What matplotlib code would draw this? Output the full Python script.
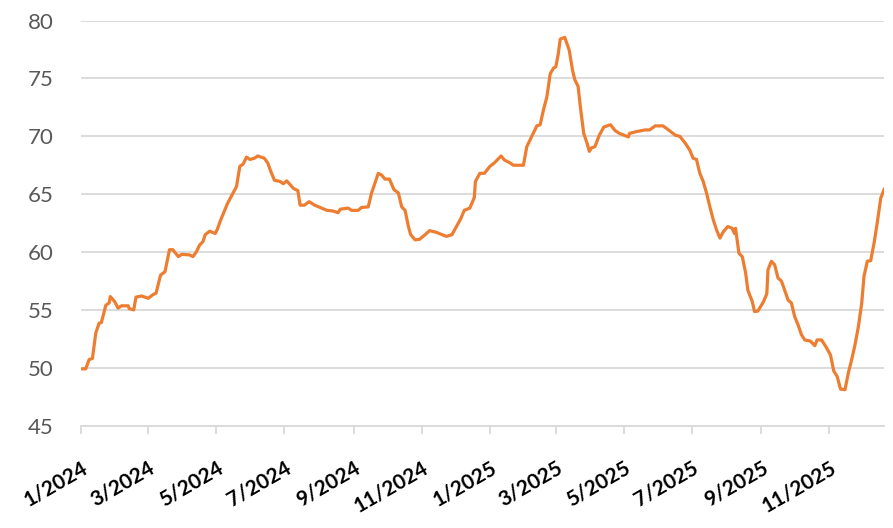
import matplotlib
matplotlib.use("Agg")
import matplotlib.pyplot as plt
import matplotlib.dates as mdates
import pandas as pd

# values
dates = [
    "2024-01-01", "2024-01-05", "2024-01-08", "2024-01-11", "2024-01-14", "2024-01-17",
    "2024-01-19", "2024-01-23", "2024-01-26", "2024-01-27", "2024-01-31", "2024-02-03",
    "2024-02-06", "2024-02-12", "2024-02-13", "2024-02-17", "2024-02-19", "2024-02-24",
    "2024-03-01", "2024-03-05", "2024-03-08", "2024-03-12", "2024-03-16", "2024-03-20",
    "2024-03-23", "2024-03-28", "2024-03-31", "2024-04-07", "2024-04-10", "2024-04-13",
    "2024-04-16", "2024-04-19", "2024-04-21", "2024-04-25", "2024-04-30", "2024-05-02",
    "2024-05-05", "2024-05-08", "2024-05-11", "2024-05-16", "2024-05-19", "2024-05-22",
    "2024-05-25", "2024-05-28", "2024-05-31", "2024-06-04", "2024-06-07", "2024-06-13",
    "2024-06-16", "2024-06-19", "2024-06-22", "2024-06-27", "2024-06-30", "2024-07-03",
    "2024-07-09", "2024-07-13", "2024-07-15", "2024-07-19", "2024-07-23", "2024-07-28",
    "2024-08-03", "2024-08-08", "2024-08-13", "2024-08-18", "2024-08-20", "2024-08-27",
    "2024-08-30", "2024-09-05", "2024-09-08", "2024-09-14", "2024-09-17", "2024-09-20",
    "2024-09-23", "2024-09-26", "2024-09-29", "2024-10-03", "2024-10-07", "2024-10-11",
    "2024-10-14", "2024-10-17", "2024-10-20", "2024-10-22", "2024-10-26", "2024-10-30",
    "2024-11-04", "2024-11-08", "2024-11-14", "2024-11-19", "2024-11-23", "2024-11-28",
    "2024-12-02", "2024-12-06", "2024-12-09", "2024-12-14", "2024-12-18", "2024-12-19",
    "2024-12-23", "2024-12-27", "2025-01-01", "2025-01-05", "2025-01-11", "2025-01-14",
    "2025-01-19", "2025-01-22", "2025-01-31", "2025-02-03", "2025-02-07", "2025-02-12",
    "2025-02-15", "2025-02-18", "2025-02-21", "2025-02-24", "2025-02-27", "2025-03-01",
    "2025-03-03", "2025-03-05", "2025-03-09", "2025-03-13", "2025-03-16", "2025-03-18",
    "2025-03-21", "2025-03-23", "2025-03-26", "2025-03-29", "2025-03-31", "2025-04-02",
    "2025-04-05", "2025-04-09", "2025-04-13", "2025-04-19", "2025-04-23", "2025-04-27",
    "2025-05-05", "2025-05-06", "2025-05-12", "2025-05-20", "2025-05-24", "2025-05-29",
    "2025-06-05", "2025-06-10", "2025-06-16", "2025-06-20", "2025-06-25", "2025-06-29",
    "2025-07-02", "2025-07-05", "2025-07-08", "2025-07-11", "2025-07-14", "2025-07-17",
    "2025-07-20", "2025-07-23", "2025-07-26", "2025-07-29", "2025-08-02", "2025-08-06",
    "2025-08-08", "2025-08-09", "2025-08-12", "2025-08-15", "2025-08-18", "2025-08-20",
    "2025-08-24", "2025-08-26", "2025-08-29", "2025-09-03", "2025-09-06", "2025-09-07",
    "2025-09-10", "2025-09-13", "2025-09-16", "2025-09-19", "2025-09-22", "2025-09-25",
    "2025-09-28", "2025-10-01", "2025-10-04", "2025-10-07", "2025-10-10", "2025-10-15",
    "2025-10-19", "2025-10-21", "2025-10-25", "2025-10-29", "2025-11-02", "2025-11-05",
    "2025-11-08", "2025-11-11", "2025-11-15", "2025-11-18", "2025-11-21", "2025-11-24",
    "2025-11-27", "2025-11-30", "2025-12-02", "2025-12-05", "2025-12-08", "2025-12-11",
    "2025-12-14", "2025-12-17", "2025-12-20",
]
values = [
    49.9, 49.9, 50.7, 50.8, 53.0, 53.85,
    53.9, 55.4, 55.6, 56.15, 55.7, 55.15,
    55.35, 55.35, 55.1, 55.0, 56.1, 56.2,
    56.0, 56.3, 56.45, 58.0, 58.3, 60.2,
    60.2, 59.6, 59.8, 59.75, 59.6, 60.0,
    60.6, 60.9, 61.5, 61.8, 61.6, 62.0,
    62.8, 63.5, 64.2, 65.1, 65.65, 67.4,
    67.6, 68.2, 68.0, 68.1, 68.3, 68.1,
    67.7, 66.9, 66.2, 66.1, 65.9, 66.15,
    65.5, 65.3, 64.05, 64.05, 64.35, 64.05,
    63.8, 63.6, 63.55, 63.4, 63.7, 63.8,
    63.6, 63.6, 63.85, 63.9, 65.1, 65.95,
    66.8, 66.65, 66.3, 66.3, 65.4, 65.1,
    63.9, 63.6, 62.2, 61.5, 61.05, 61.1,
    61.5, 61.85, 61.7, 61.5, 61.35, 61.5,
    62.2, 62.9, 63.6, 63.8, 64.7, 66.1,
    66.8, 66.8, 67.4, 67.7, 68.3, 67.95,
    67.7, 67.5, 67.5, 69.1, 69.9, 70.9,
    71.0, 72.3, 73.4, 75.4, 75.9, 76.0,
    77.0, 78.4, 78.55, 77.45, 75.7, 74.9,
    74.3, 72.55, 70.25, 69.4, 68.7, 69.0,
    69.1, 70.1, 70.8, 71.0, 70.5, 70.25,
    69.95, 70.25, 70.4, 70.55, 70.55, 70.9,
    70.9, 70.55, 70.1, 70.0, 69.4, 68.8,
    68.1, 68.0, 66.8, 66.1, 65.1, 63.9,
    62.8, 61.9, 61.2, 61.75, 62.2, 62.05,
    61.6, 62.05, 59.9, 59.6, 58.2, 56.7,
    55.7, 54.85, 54.9, 55.7, 56.4, 58.45,
    59.2, 58.9, 57.75, 57.5, 56.7, 55.85,
    55.6, 54.4, 53.7, 52.85, 52.4, 52.3,
    51.9, 52.4, 52.4, 51.8, 51.1, 49.7,
    49.25, 48.15, 48.1, 49.55, 50.7, 52.0,
    53.55, 55.6, 57.9, 59.2, 59.25, 60.75,
    62.6, 64.65, 65.4,
]
y_ticks = [45, 50, 55, 60, 65, 70, 75, 80]
x_start, x_end = "2024-01-01", "2025-12-20"

plt.rcParams["font.family"] = ["Lato", "DejaVu Sans"]

x = pd.to_datetime(dates)
fig = plt.figure(figsize=(8.93, 5.28), dpi=100)
ax = fig.add_axes([0.091, 0.194, 0.899, 0.767])

ax.plot(x, values, color="#ED7D31", lw=2.3, solid_joinstyle="round", zorder=3)

ax.set_ylim(y_ticks[0], y_ticks[-1])
ax.set_yticks(y_ticks)
ax.set_xlim(pd.Timestamp(x_start), pd.Timestamp(x_end))
ax.xaxis.set_major_locator(mdates.MonthLocator(bymonth=[1, 3, 5, 7, 9, 11]))
ax.xaxis.set_major_formatter(
    plt.FuncFormatter(lambda v, _: f"{mdates.num2date(v).month}/{mdates.num2date(v).year}"))

ax.grid(axis="y", color="#D9D9D9", lw=1.3)
ax.set_axisbelow(True)
for s in ("left", "right", "top"):
    ax.spines[s].set_visible(False)
ax.spines["bottom"].set_color("#D9D9D9")
ax.spines["bottom"].set_linewidth(1.3)

ax.tick_params(axis="y", length=0, pad=20, labelsize=16, labelcolor="#595959")
ax.tick_params(axis="x", length=6, width=1.3, color="#D9D9D9", pad=17,
               labelsize=15, labelcolor="black")
for lab in ax.get_xticklabels():
    lab.set_rotation(30)
    lab.set_ha("right")
    lab.set_rotation_mode("anchor")
    lab.set_fontweight("bold")

fig.savefig("out.png", dpi=100)
